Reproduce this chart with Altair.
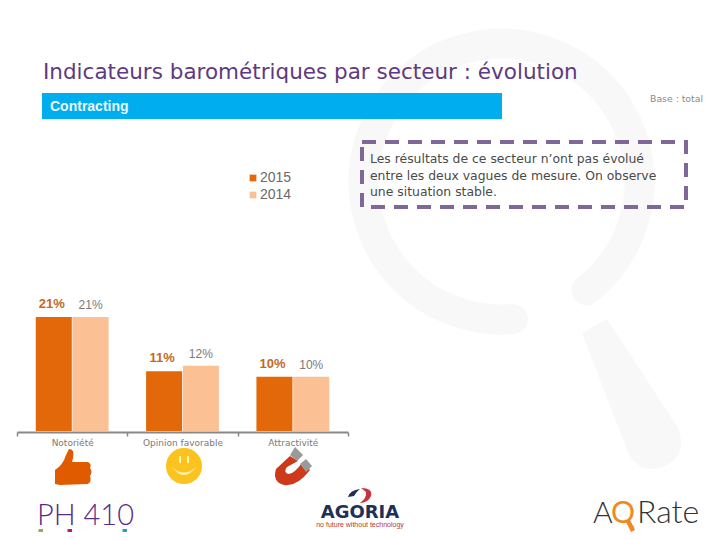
import altair as alt
import pandas as pd

categories = ["Notoriété", "Opinion favorable", "Attractivité"]
years = ["2015", "2014"]
values_2015 = [21, 11, 10]
values_2014 = [21, 12, 10]
labels_2015 = ["21%", "11%", "10%"]
labels_2014 = ["21%", "12%", "10%"]
bar_colors = ["#E2680A", "#FBC094"]

title_text = "Indicateurs barométriques par secteur : évolution"
band_text = "Contracting"
base_text = "Base : total"
note_lines = [
    "Les résultats de ce secteur n’ont pas évolué",
    "entre les deux vagues de mesure. On observe",
    "une situation stable.",
]

rows = []
for i, c in enumerate(categories):
    rows.append({"cat": c, "year": "2015", "v": values_2015[i], "label": labels_2015[i]})
    rows.append({"cat": c, "year": "2014", "v": values_2014[i], "label": labels_2014[i]})
df = pd.DataFrame(rows)

ONE = alt.Data(values=[{}])


def px(v):
    return alt.value(v - 8)


def text(s, x, y, size, color, font="DejaVu Sans", align="left", weight="normal"):
    return alt.Chart(ONE).mark_text(
        fontSize=size, color=color, font=font, align=align, baseline="alphabetic",
        fontWeight=weight,
    ).encode(x=px(x), y=px(y), text=alt.value(s))


def shape(path, color, x=0, y=0):
    # size 4 makes one path unit equal one pixel
    return alt.Chart(ONE).mark_point(
        shape=path, size=4, filled=True, opacity=1, color=color, strokeWidth=0
    ).encode(x=px(x), y=px(y))


def rect(x, x2, y, y2, color):
    return alt.Chart(ONE).mark_rect(color=color).encode(x=px(x), x2=px(x2), y=px(y), y2=px(y2))


WM = "#F8F8F8"
deco_back = [
    alt.Chart(ONE).mark_arc(radius=153, radius2=123, theta=2.95, theta2=8.87, cornerRadius=15, color=WM)
    .encode(x=px(501.5), y=px(181.5)),
    shape("M582,333 L607,319 L678,428 Q688,455 665,466 Q640,476 628,452 Z", WM),
    text(title_text, 43, 79, 21.5, "#5E3A80"),
    rect(42, 502, 93, 119, "#00AEEF"),
    text(band_text, 50, 111, 14, "#E8F7FD", font="Liberation Sans", weight="bold"),
    text(base_text, 703, 102, 9.3, "#8A8A8A", font="DejaVu Sans", align="right"),
    alt.Chart(ONE).mark_rect(fillOpacity=0, stroke="#7F6798", strokeWidth=4, strokeDash=[14, 9])
    .encode(x=px(362), x2=px(686), y=px(142), y2=px(207)),
]
deco_back += [
    text(line, 370, 163 + 16.5 * i, 12.4, "#4A4A4A")
    for i, line in enumerate(note_lines)
]

x_enc = alt.X(
    "cat:N", sort=categories, title=None,
    scale=alt.Scale(range=[9, 340], paddingInner=0, paddingOuter=0),
    axis=alt.Axis(
        offset=-100, labelAngle=0, domainColor="#888888", domainWidth=2, tickColor="#888888",
        tickBand="extent", tickSize=4, tickWidth=1.5, labelColor="#7A7A7A", labelFontSize=9,
        labelFont="DejaVu Sans", labelPadding=2, grid=False,
    ),
)
y_enc = alt.Y(
    "v:Q", axis=None, title=None,
    scale=alt.Scale(domain=[0, 21], range=[423, 309], nice=False, zero=True),
)
off_enc = alt.XOffset("year:N", sort=years, scale=alt.Scale(domain=years, paddingInner=0.02, paddingOuter=0.51))

bars = alt.Chart(df).mark_bar().encode(
    x=x_enc, y=y_enc, xOffset=off_enc,
    color=alt.Color(
        "year:N", sort=years, scale=alt.Scale(domain=years, range=bar_colors),
        legend=alt.Legend(
            orient="none", legendX=238, legendY=163, title=None, symbolType="square", symbolSize=45,
            labelFontSize=14, labelColor="#6A6A6A", labelFont="Liberation Sans",
            labelOffset=0, rowPadding=3, symbolOpacity=1, symbolStrokeWidth=0,
        ),
    ),
)
lab15 = alt.Chart(df).transform_filter("datum.year == '2015'").mark_text(
    color="#C4691F", fontSize=13, fontWeight="bold", font="Liberation Sans", dy=-9, dx=-2, baseline="alphabetic"
).encode(x=x_enc, y=y_enc, xOffset=off_enc, text="label:N")
lab14 = alt.Chart(df).transform_filter("datum.year == '2014'").mark_text(
    color="#7A7A7A", fontSize=12, font="Liberation Sans", dy=-8, baseline="alphabetic"
).encode(x=x_enc, y=y_enc, xOffset=off_enc, text="label:N")

deco_front = [
    # thumb
    shape("M69,449 Q75,449 73,458 L72,462 L88,462 Q92,464 90,468 Q93,472 90,476 Q92,481 88,484 L60,485 L55,484 L55,470 Q63,465 66,455 Z", "#E05A00"),
    # smiley
    alt.Chart(ONE).mark_point(shape="circle", size=1300, filled=True, opacity=1, color="#FCC21E", strokeWidth=0).encode(x=px(184), y=px(466)),
    shape("M179,456 h2 v7 h-2 Z M187,456 h2 v7 h-2 Z M172,467 Q184,483 196,467 Q184,478 172,467 Z", "#FFF3B0"),
    # magnet
    shape("M290,456 L276,469 Q272,482 284,485 Q297,487 310,470 L302,463 Q293,475 288,474 Q283,472 287,467 L298,461 Z", "#CC3A1A"),
    shape("M295,447 L303,455 L297,461 L290,455 Z M306,459 L312,466 L306,472 L300,464 Z", "#9A9A9A"),
    # PH 410
    text("PH 410", 37, 525, 29, "#5B2C83", font="Lato", weight=300),
    rect(38.5, 43, 529, 533, "#8DB048"),
    rect(67.5, 72, 529, 533, "#C6127F"),
    rect(122.5, 127, 529, 533, "#2A9DB5"),
    # Agoria
    shape("M348,497 Q350,490 360,489 Q356,492 354,496 Z", "#1F3057"),
    shape("M361,488 Q373,488 371,496 Q368,503 360,503 Q367,498 366,492 Z", "#C8323C"),
    text("AGORIA", 360, 518, 18, "#1F3057", font="DejaVu Sans", align="center", weight="bold"),
    text("no future without technology", 360, 527, 7, "#B23A3A", font="Liberation Sans", align="center"),
    # AQRate
    text("A", 593, 523, 30, "#333333", font="Lato", weight=300),
    text("Q", 611, 523, 30, "#F0891E", font="Lato", weight=400),
    shape("M626,522 L630,520 L635,530 L631,532 Z", "#F0891E"),
    text("Rate", 637, 523, 32, "#333333", font="Lato", weight=300),
]

chart = alt.layer(*deco_back, bars, lab15, lab14, *deco_front).properties(
    width=704, height=524, padding=0, autosize=alt.AutoSizeParams(type="none")
).configure_view(stroke=None)

chart.save("out.html", embed_options={"renderer": "svg", "actions": False})
